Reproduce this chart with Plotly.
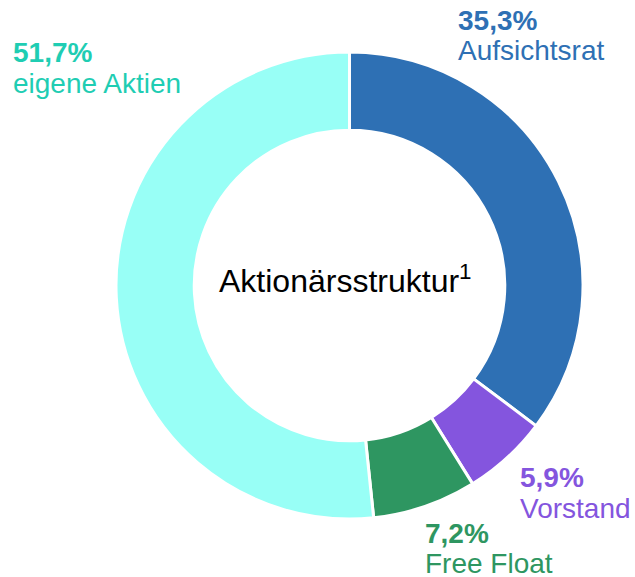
import plotly.graph_objects as go

W, H = 635, 577

labels = ["Aufsichtsrat", "Vorstand", "Free Float", "eigene Aktien"]
values = [35.3, 5.9, 7.2, 51.7]
pct_text = ["35,3%", "5,9%", "7,2%", "51,7%"]
slice_colors = ["#2E70B4", "#8455DE", "#2E9661", "#98FFF6"]
text_colors = ["#2E70B4", "#8455DE", "#2E9661", "#1FCDB3"]
center_title = "Aktionärsstruktur<sup>1</sup>"

# label layout (left px, cap-middle px for pct line and name line)
label_pos = [
    (456, 20, 50),
    (518, 477, 508),
    (423, 533, 563),
    (11, 52, 83),
]

cx, cy, r = 349.5, 285.5, 233.5

fig = go.Figure(go.Pie(
    labels=labels,
    values=values,
    hole=0.665,
    sort=False,
    direction="clockwise",
    rotation=0,
    marker=dict(colors=slice_colors, line=dict(color="white", width=3)),
    textinfo="none",
    hoverinfo="label+percent",
    domain=dict(x=[(cx - r) / W, (cx + r) / W], y=[1 - (cy + r) / H, 1 - (cy - r) / H]),
    showlegend=False,
))

FONT = "Liberation Sans, Arial, sans-serif"
ann = []
for (lx, py1, py2), pt, lb, col in zip(label_pos, pct_text, labels, text_colors):
    ann.append(dict(x=lx / W, y=1 - py1 / H, xref="paper", yref="paper",
                    text=f"<b>{pt}</b>", showarrow=False, xanchor="left", yanchor="middle",
                    font=dict(family=FONT, size=28, color=col)))
    ann.append(dict(x=lx / W, y=1 - py2 / H, xref="paper", yref="paper",
                    text=lb, showarrow=False, xanchor="left", yanchor="middle",
                    font=dict(family=FONT, size=28, color=col)))
ann.append(dict(x=345.5 / W, y=1 - 279 / H, xref="paper", yref="paper",
                text=center_title, showarrow=False, xanchor="center", yanchor="middle",
                font=dict(family=FONT, size=32, color="#000000")))

fig.update_layout(
    width=W, height=H,
    margin=dict(l=0, r=0, t=0, b=0),
    paper_bgcolor="white", plot_bgcolor="white",
    annotations=ann,
)

fig.write_html("out.html", config={"displayModeBar": False},
               post_script="document.body.style.margin='0';document.body.style.overflow='hidden';")
